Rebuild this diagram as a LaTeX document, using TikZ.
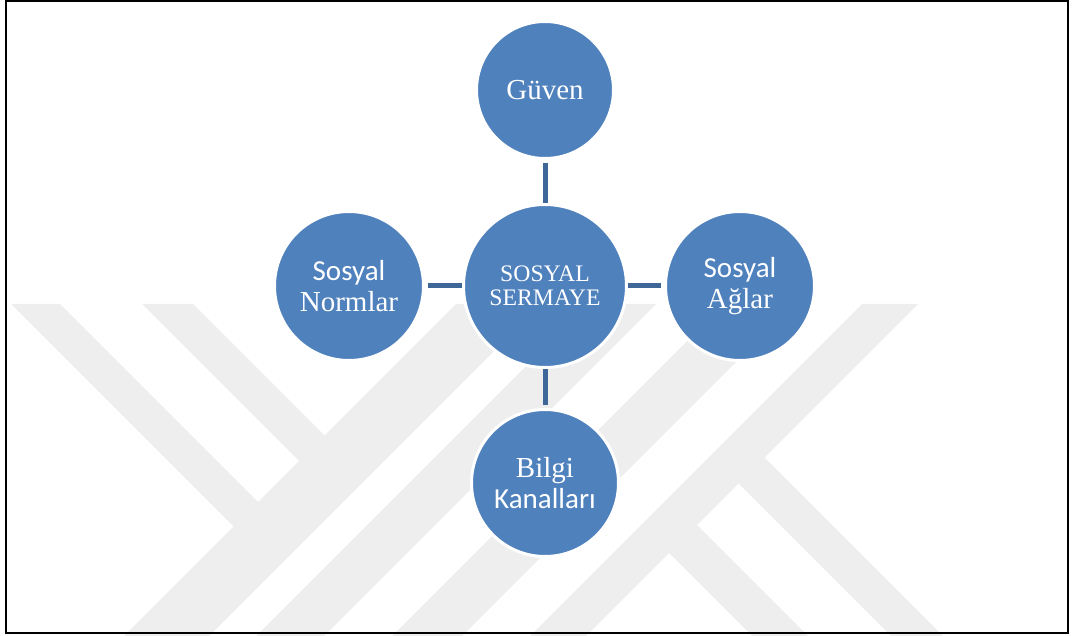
\documentclass[tikz,border=0pt]{standalone}
\usepackage{fontspec}
\setmainfont{Liberation Serif}
\newfontfamily\calfont{Carlito}
\definecolor{blobfill}{RGB}{79,129,189}
\definecolor{linkcol}{RGB}{62,102,153}
\definecolor{markgray}{RGB}{238,238,238}

\begin{document}
\begin{tikzpicture}[x=1pt,y=-1pt,
  bubble/.style={circle, fill=blobfill, draw=white, line width=3pt,
    text=white, align=center, inner sep=0pt,
    font=\fontsize{29}{31}\selectfont},
  hub/.style={bubble, font=\fontsize{23.7}{24}\selectfont},
  link/.style={draw=linkcol, line width=5pt, shorten >=3pt},
  stripe/.style={fill=markgray, draw=none}]
\useasboundingbox (0,0) rectangle (1074,636);

% background emblem made of diagonal bands
\fill[stripe] (11,304) -- (60,304) -- (278,522) -- (253.5,546.5) -- cycle;
\fill[stripe] (142,304) -- (193,304) -- (344.5,455.5) -- (319,481) -- cycle;
\fill[stripe] (456,304) -- (541,304) -- (209,636) -- (124,636) -- cycle;
\fill[stripe] (588,304) -- (656,304) -- (324,636) -- (256,636) -- cycle;
\fill[stripe] (724,304) -- (794,304) -- (462,636) -- (392,636) -- cycle;
\fill[stripe] (862,304) -- (918,304) -- (586,636) -- (530,636) -- cycle;
\fill[stripe] (748.5,441.5) -- (943,636) -- (891,636) -- (722.5,467.5) -- cycle;
\fill[stripe] (681,509) -- (808,636) -- (752,636) -- (653,537) -- cycle;

% circles
\node[hub, minimum size=163pt] (cen) at (545,286) {SOSYAL\\SERMAYE};
\node[bubble, minimum size=137pt] (gu) at (545,90) {Güven};
\node[bubble, minimum size=149pt] (nor) at (349,286) {{\calfont Sosyal}\\Normlar};
\node[bubble, minimum size=149pt] (ag) at (740,286) {{\calfont Sosyal}\\Ağlar};
\node[bubble, minimum size=147pt] (bil) at (545,483) {Bilgi\\{\calfont Kanalları}};

% spokes
\draw[link] (cen) -- (gu);
\draw[link] (cen) -- (nor);
\draw[link] (cen) -- (ag);
\draw[link] (cen) -- (bil);

% frame
\draw[line width=2pt] (6,1) rectangle (1068,633);
\end{tikzpicture}
\end{document}
